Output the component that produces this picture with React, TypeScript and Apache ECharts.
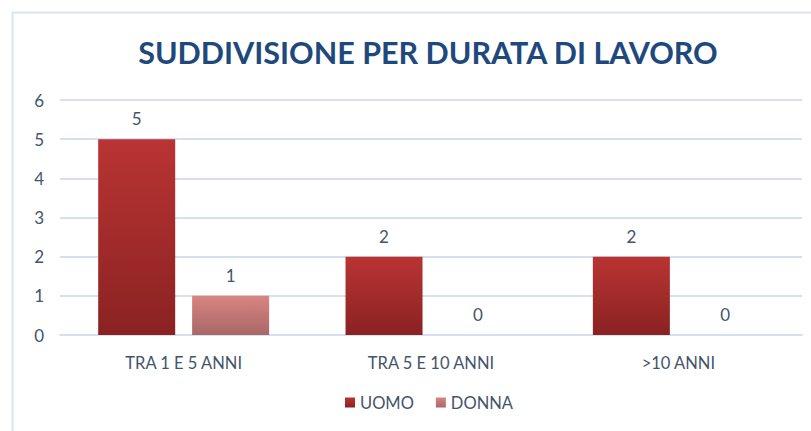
import React, { useEffect, useRef } from "react";
import * as echarts from "echarts";

const categories = ["TRA 1 E 5 ANNI", "TRA 5 E 10 ANNI", ">10 ANNI"];
const uomo = [5, 2, 2];
const donna = [1, 0, 0];
const seriesNames = ["UOMO", "DONNA"];
const titleText = "SUDDIVISIONE PER DURATA DI LAVORO";

const FONT = "Lato, 'Open Sans', sans-serif";
const TEXT = "#44546a";

export default function App() {
  const ref = useRef<HTMLDivElement>(null);
  useEffect(() => {
    if (!ref.current) return;
    const chart = echarts.init(ref.current, undefined, { renderer: "svg" });
    const grad = (a: string, b: string) =>
      new echarts.graphic.LinearGradient(0, 0, 0, 1, [
        { offset: 0, color: a },
        { offset: 1, color: b },
      ]);
    chart.setOption({
      animation: false,
      backgroundColor: "#ffffff",
      textStyle: { fontFamily: FONT },
      title: {
        text: titleText,
        left: 423,
        top: 31,
        textAlign: "center",
        textStyle: { fontFamily: FONT, fontWeight: "bold", fontSize: 30.5, color: "#1f497d" },
      },
      graphic: [
        {
          type: "rect",
          shape: { x: 12.5, y: 12.5, width: 820, height: 440 },
          style: { fill: "none", stroke: "#dbe5f1", lineWidth: 2 },
          silent: true,
        },
      ],
      legend: {
        data: seriesNames,
        bottom: 15,
        left: 340,
        itemWidth: 10,
        itemHeight: 10,
        itemGap: 22,
        icon: "rect",
        textStyle: { fontFamily: FONT, fontSize: 16.5, color: TEXT },
      },
      grid: { left: 60, right: 9, top: 100, bottom: 96 },
      xAxis: {
        type: "category",
        data: categories,
        axisLine: { lineStyle: { color: "#d6e0ee", width: 2 } },
        axisTick: { show: false },
        axisLabel: { fontFamily: FONT, fontSize: 16.5, color: TEXT, margin: 19 },
      },
      yAxis: {
        type: "value",
        min: 0,
        max: 6,
        interval: 1,
        axisLine: { show: false },
        axisTick: { show: false },
        axisLabel: { fontFamily: FONT, fontSize: 17, color: TEXT, margin: 16 },
        splitLine: { lineStyle: { color: "#d6e0ee", width: 2 } },
      },
      series: [
        {
          name: seriesNames[0],
          type: "bar",
          data: uomo,
          barWidth: 77,
          barGap: "22%",
          itemStyle: { color: grad("#b93433", "#8a2222") },
          label: { show: true, position: "top", distance: 12, fontFamily: FONT, fontSize: 17, color: TEXT },
        },
        {
          name: seriesNames[1],
          type: "bar",
          data: donna,
          barWidth: 77,
          itemStyle: { color: grad("#d98482", "#a86866") },
          label: { show: true, position: "top", distance: 12, fontFamily: FONT, fontSize: 17, color: TEXT },
        },
      ],
    });
    return () => chart.dispose();
  }, []);
  return <div ref={ref} style={{ width: 811, height: 431, position: "absolute", left: 0, top: 0 }} />;
}
